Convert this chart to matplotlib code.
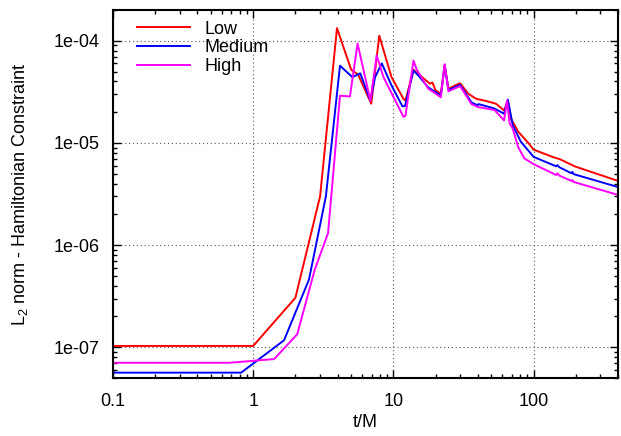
import matplotlib
matplotlib.use("Agg")
import matplotlib.pyplot as plt
from matplotlib.ticker import LogLocator, FixedLocator, NullFormatter

plt.rcParams['font.family'] = ['Liberation Sans', 'DejaVu Sans']
plt.rcParams['mathtext.fontset'] = 'custom'
plt.rcParams['mathtext.rm'] = 'Liberation Sans'
plt.rcParams['mathtext.it'] = 'Liberation Sans'
plt.rcParams['mathtext.default'] = 'regular'

# ---- data ----
t_low = [0.1, 1.0, 2.0, 3.0, 3.96, 5.0, 5.6, 6.95, 7.93, 9.7, 11.8, 12.2, 13.9, 15.0,
         18.2, 19.0, 20.0, 21.8, 23.2, 24.7, 27.4, 29.9, 34.2, 39.0, 44.5, 53.9, 61.6,
         65.5, 69.0, 77.6, 92.3, 100, 140, 148, 155, 182, 189, 196, 400]
low = [1.03e-7, 1.03e-7, 3.05e-7, 3.0e-6, 1.33e-4, 5.2e-5, 4.67e-5, 2.42e-5, 1.12e-4,
       4.4e-5, 2.7e-5, 2.6e-5, 5.2e-5, 4.75e-5, 3.8e-5, 3.9e-5, 3.26e-5, 3.03e-5,
       5.8e-5, 3.39e-5, 3.64e-5, 3.84e-5, 3.03e-5, 2.7e-5, 2.6e-5, 2.42e-5, 2.08e-5,
       2.6e-5, 1.73e-5, 1.29e-5, 9.9e-6, 8.6e-6, 7.2e-6, 7.05e-6, 6.9e-6, 6.2e-6,
       6.07e-6, 5.9e-6, 4.25e-6]

t_med = [0.1, 0.82, 1.66, 2.5, 3.3, 4.16, 5.1, 5.8, 6.85, 7.4, 8.26, 9.7, 11.6, 12.1,
         13.9, 15.0, 17.7, 21.8, 23.2, 24.7, 29.9, 36.0, 39.8, 40.5, 52.6, 61.6, 65.5,
         71.0, 81.0, 100, 145, 148, 152, 186, 189, 193, 400]
med = [5.64e-8, 5.64e-8, 1.17e-7, 4.6e-7, 3.0e-6, 5.7e-5, 4.4e-5, 4.8e-5, 2.6e-5,
       4.4e-5, 6.0e-5, 3.65e-5, 2.28e-5, 2.3e-5, 5.1e-5, 4.6e-5, 3.5e-5, 2.9e-5,
       5.7e-5, 3.3e-5, 3.7e-5, 2.5e-5, 2.33e-5, 2.4e-5, 2.17e-5, 1.93e-5, 2.65e-5,
       1.49e-5, 1.03e-5, 7.3e-6, 5.9e-6, 6.07e-6, 5.8e-6, 5.05e-6, 5.2e-6, 4.95e-6,
       3.7e-6]

t_high = [0.1, 0.68, 1.41, 2.06, 2.75, 3.42, 4.16, 4.9, 5.55, 6.85, 7.6, 8.5, 11.8,
          12.2, 13.9, 14.6, 17.7, 21.8, 23.2, 24.7, 29.9, 36.0, 39.8, 52.6, 61.6, 64.6,
          67.5, 71.0, 77.6, 86.0, 100, 145, 148, 152, 186, 189, 193, 400]
high = [7.05e-8, 7.05e-8, 7.66e-8, 1.34e-7, 5.76e-7, 1.31e-6, 2.9e-5, 2.85e-5, 9.4e-5,
        2.6e-5, 7.2e-5, 4.4e-5, 1.8e-5, 1.85e-5, 6.4e-5, 5.3e-5, 3.4e-5, 2.8e-5,
        5.9e-5, 3.2e-5, 3.6e-5, 2.4e-5, 2.25e-5, 2.1e-5, 1.66e-5, 2.6e-5, 1.55e-5,
        1.38e-5, 9.1e-6, 7.05e-6, 6.2e-6, 4.85e-6, 5.04e-6, 4.8e-6, 4.25e-6, 4.33e-6,
        4.15e-6, 3.1e-6]

series_labels = ["Low", "Medium", "High"]
series_colors = ["#ff0000", "#0000ff", "#ff00ff"]
y_ticks = [1e-7, 1e-6, 1e-5, 1e-4]
y_tick_labels = ["1e-07", "1e-06", "1e-05", "1e-04"]
x_ticks = [0.1, 1, 10, 100]
x_tick_labels = ["0.1", "1", "10", "100"]

# ---- figure ----
W, H = 621, 436
fig = plt.figure(figsize=(W / 100, H / 100), dpi=100)
ax = fig.add_axes([113 / W, (H - 378) / H, (618 - 113) / W, (378 - 10) / H])

for t, v, lab, c in zip([t_low, t_med, t_high], [low, med, high], series_labels, series_colors):
    ax.plot(t, v, color=c, lw=1.4, label=lab)

ax.set_xscale('log')
ax.set_yscale('log')
ax.set_xlim(0.1, 400)
ax.set_ylim(5e-8, 2e-4)

ax.xaxis.set_major_locator(FixedLocator(x_ticks))
ax.set_xticklabels(x_tick_labels)
ax.xaxis.set_minor_locator(LogLocator(base=10, subs=range(2, 10), numticks=20))
ax.xaxis.set_minor_formatter(NullFormatter())
ax.yaxis.set_major_locator(FixedLocator(y_ticks))
ax.set_yticklabels(y_tick_labels)
ax.yaxis.set_minor_locator(LogLocator(base=10, subs=range(2, 10), numticks=20))
ax.yaxis.set_minor_formatter(NullFormatter())

ax.tick_params(which='both', direction='in', top=True, right=True, width=1.0, color='black')
ax.tick_params(which='major', length=6, labelsize=13)
ax.tick_params(axis='x', which='major', pad=11)
ax.tick_params(axis='y', which='major', pad=9.5)
ax.tick_params(which='minor', length=3)
ax.grid(True, which='major', linestyle=(0, (1, 2.5)), color='#555555', lw=0.8)
for s in ax.spines.values():
    s.set_linewidth(1.5)

ax.set_xlabel("t/M", fontsize=13, labelpad=3)
ax.set_ylabel(r"L$_2$ norm - Hamiltonian Constraint", fontsize=13, labelpad=17)

ax.legend(loc='upper left', bbox_to_anchor=(0.034, 0.991), frameon=False, fontsize=13,
          handlelength=2.9, handletextpad=0.8, labelspacing=0.1, borderaxespad=0.0)

fig.savefig("out.png", dpi=100)
